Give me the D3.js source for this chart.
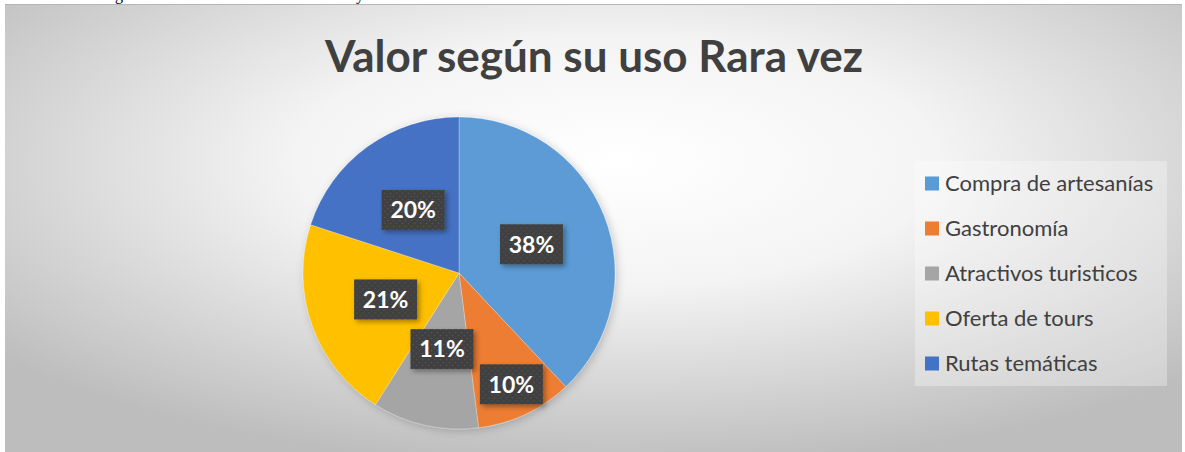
<!DOCTYPE html>
<html>
<head>
<meta charset="utf-8">
<script src="https://cdn.jsdelivr.net/npm/d3@7"></script>
<style>
  html, body { margin: 0; padding: 0; background: #fff; }
  svg { display: block; }
</style>
</head>
<body>
<div id="chart"></div>
<script>
const title = "Valor según su uso Rara vez";
const categories = ["Compra de artesanías", "Gastronomía", "Atractivos turisticos", "Oferta de tours", "Rutas temáticas"];
const values = [0.38, 0.10, 0.11, 0.21, 0.20];
const colours = ["#5B9BD5", "#ED7D31", "#A5A5A5", "#FFC000", "#4472C4"];

const width = 1185;
const height = 452;
const frame = { x: 5, y: 4, w: 1177, h: 452 };
const pieCentre = { x: 459, y: 273 };
const radius = 156;
const legendBox = { x: 915, y: 161, w: 252, h: 225 };

const svg = d3.select("#chart").append("svg")
  .attr("width", width)
  .attr("height", height);

const defs = svg.append("defs");

const grad = defs.append("radialGradient")
  .attr("id", "bgGrad")
  .attr("cx", "52%").attr("cy", "35%").attr("r", "68%");
grad.append("stop").attr("offset", "0%").attr("stop-color", "#ffffff");
grad.append("stop").attr("offset", "40%").attr("stop-color", "#f4f4f4");
grad.append("stop").attr("offset", "100%").attr("stop-color", "#bdbdbd");

const shadow = defs.append("filter").attr("id", "shadow")
  .attr("x", "-20%").attr("y", "-20%").attr("width", "150%").attr("height", "150%");
shadow.append("feDropShadow")
  .attr("dx", 2.5).attr("dy", 2.5).attr("stdDeviation", 2.5)
  .attr("flood-color", "#000").attr("flood-opacity", 0.35);

const pieShadow = defs.append("filter").attr("id", "pieShadow")
  .attr("x", "-20%").attr("y", "-20%").attr("width", "140%").attr("height", "140%");
pieShadow.append("feDropShadow")
  .attr("dx", 2).attr("dy", 2).attr("stdDeviation", 4)
  .attr("flood-color", "#000").attr("flood-opacity", 0.2);

const dots = defs.append("pattern").attr("id", "dots")
  .attr("width", 6).attr("height", 6).attr("patternUnits", "userSpaceOnUse");
dots.append("rect").attr("width", 6).attr("height", 6).attr("fill", "#404040");
dots.append("circle").attr("cx", 1.5).attr("cy", 1.5).attr("r", 0.8).attr("fill", "#555");
dots.append("circle").attr("cx", 4.5).attr("cy", 4.5).attr("r", 0.8).attr("fill", "#555");

// text of the page above the chart, cut off by the frame
svg.append("g")
  .attr("font-family", "'Liberation Serif', serif")
  .attr("font-size", 16)
  .selectAll("text")
  .data([{ t: "g", x: 115 }, { t: "y", x: 356 }])
  .join("text")
  .attr("x", d => d.x)
  .attr("y", 0)
  .text(d => d.t);

svg.append("rect")
  .attr("x", frame.x).attr("y", frame.y)
  .attr("width", frame.w).attr("height", frame.h)
  .attr("fill", "url(#bgGrad)");

svg.append("line")
  .attr("x1", frame.x).attr("x2", frame.x + frame.w)
  .attr("y1", frame.y + 0.5).attr("y2", frame.y + 0.5)
  .attr("stroke", "#b5b5b5");

svg.append("text")
  .attr("x", 594)
  .attr("y", 72)
  .attr("text-anchor", "middle")
  .attr("font-family", "Lato, 'Open Sans', sans-serif")
  .attr("font-weight", "bold")
  .attr("font-size", 44)
  .attr("fill", "#404040")
  .text(title);

const data = categories.map((c, i) => ({ name: c, value: values[i], colour: colours[i] }));

const pie = d3.pie().sort(null).value(d => d.value);
const arcs = pie(data);
const arc = d3.arc().innerRadius(0).outerRadius(radius);

const chart = svg.append("g")
  .attr("transform", `translate(${pieCentre.x},${pieCentre.y})`);

chart.append("g")
  .attr("filter", "url(#pieShadow)")
  .selectAll("path")
  .data(arcs)
  .join("path")
  .attr("d", arc)
  .attr("fill", d => d.data.colour)
  .attr("stroke", "#ffffff")
  .attr("stroke-opacity", 0.35)
  .attr("stroke-width", 0.75);

// labels at half radius, smaller ones pushed outward when they collide
const boxW = 63, boxH = 40, gap = 6;
const placed = [];
const order = arcs.slice().sort((a, b) => b.value - a.value);
order.forEach(a => {
  const mid = (a.startAngle + a.endAngle) / 2;
  let r = radius * 0.5;
  let pos;
  const hits = p => placed.some(q =>
    Math.abs(p.x - q.x) < boxW + gap && Math.abs(p.y - q.y) < boxH + gap);
  do {
    pos = { x: Math.sin(mid) * r, y: -Math.cos(mid) * r };
    r += 1;
  } while (hits(pos) && r < radius);
  placed.push(pos);
  a.label = pos;
});

const labels = chart.append("g")
  .selectAll("g")
  .data(arcs)
  .join("g")
  .attr("transform", d => `translate(${d.label.x},${d.label.y})`);

labels.append("rect")
  .attr("x", -boxW / 2).attr("y", -boxH / 2)
  .attr("width", boxW).attr("height", boxH)
  .attr("fill", "url(#dots)")
  .attr("filter", "url(#shadow)");

labels.append("text")
  .attr("text-anchor", "middle")
  .attr("dy", "0.36em")
  .attr("font-family", "Lato, 'Open Sans', sans-serif")
  .attr("font-weight", "bold")
  .attr("font-size", 23)
  .attr("fill", "#ffffff")
  .text(d => d3.format(".0%")(d.data.value));

const legend = svg.append("g");

legend.append("rect")
  .attr("x", legendBox.x).attr("y", legendBox.y)
  .attr("width", legendBox.w).attr("height", legendBox.h)
  .attr("fill", "#ffffff")
  .attr("fill-opacity", 0.3);

const ly = d3.scaleBand()
  .domain(categories)
  .range([legendBox.y, legendBox.y + legendBox.h]);

const items = legend.selectAll("g.item")
  .data(data)
  .join("g")
  .attr("class", "item")
  .attr("transform", d => `translate(${legendBox.x + 10},${ly(d.name) + ly.bandwidth() / 2})`);

items.append("rect")
  .attr("x", 0).attr("y", -7)
  .attr("width", 14).attr("height", 14)
  .attr("fill", d => d.colour);

items.append("text")
  .attr("x", 20)
  .attr("dy", "0.36em")
  .attr("font-family", "Lato, 'Open Sans', sans-serif")
  .attr("font-size", 22)
  .attr("fill", "#404040")
  .text(d => d.name);
</script>
</body>
</html>
